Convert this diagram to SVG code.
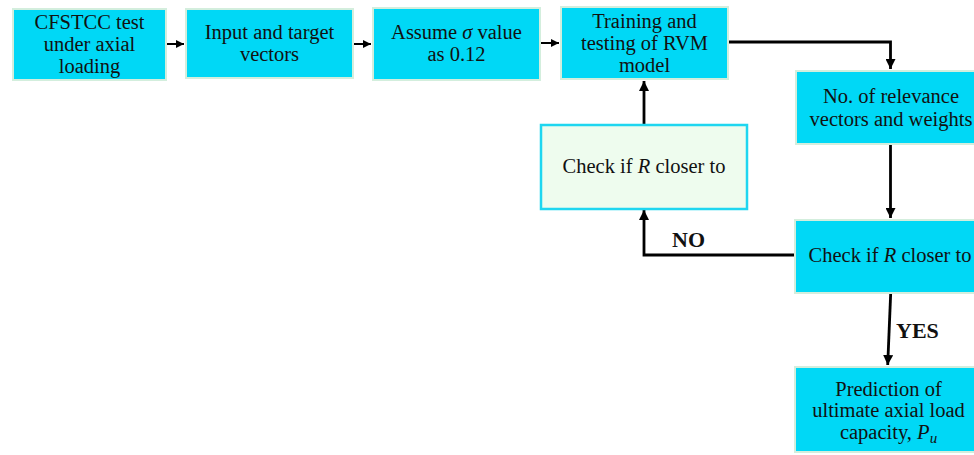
<svg xmlns="http://www.w3.org/2000/svg" width="974" height="455" viewBox="0 0 974 455">
<style>
.box{fill:#00d8f6;stroke:#d3eedd;stroke-width:2}
.chk{fill:#eefcee;stroke:#1ed6f0;stroke-width:2.5}
text{font-family:"Liberation Serif","Times New Roman",serif;font-size:20.5px;fill:#111;text-anchor:middle}
.lbl{font-weight:bold;font-size:22px;text-anchor:start}
.c{fill:none;stroke:#000;stroke-width:2.8}
.s{fill:none;stroke:#000;stroke-width:2}
</style>
<defs>
<marker id="ah" viewBox="0 0 10 10" refX="10" refY="5" markerWidth="8" markerHeight="8" markerUnits="userSpaceOnUse" orient="auto">
<path d="M0,0 L10,5 L0,10 Z" fill="#000"/>
</marker>
<marker id="ahb" viewBox="0 0 10 10" refX="10" refY="5" markerWidth="10" markerHeight="10" markerUnits="userSpaceOnUse" orient="auto">
<path d="M0,0 L10,5 L0,10 Z" fill="#000"/>
</marker>
</defs>
<rect width="974" height="455" fill="#fff"/>
<g id="connectors">
<line class="s" x1="167" y1="44" x2="184" y2="44" marker-end="url(#ah)"/>
<line class="s" x1="354" y1="44" x2="371" y2="44" marker-end="url(#ah)"/>
<line class="s" x1="541" y1="43" x2="559" y2="43" marker-end="url(#ah)"/>
<path class="c" d="M728,42 H890.5 V69" marker-end="url(#ahb)"/>
<path class="c" d="M890.5,145 V218" marker-end="url(#ahb)"/>
<path class="c" d="M795,255 H644 V210" marker-end="url(#ahb)"/>
<path class="c" d="M644,125 V81" marker-end="url(#ahb)"/>
<path class="c" d="M890.7,293 L887.7,365" marker-end="url(#ahb)"/>
<text class="lbl" x="672" y="247">NO</text>
<text class="lbl" x="896" y="338">YES</text>
</g>
<g id="n1"><rect class="box" x="13" y="9" width="153" height="71"/>
<text x="89.5" y="29">CFSTCC test</text><text x="89.5" y="51">under axial</text><text x="89.5" y="73">loading</text></g>
<g id="n2"><rect class="box" x="186" y="9" width="167" height="69"/>
<text x="269.5" y="39">Input and target</text><text x="269.5" y="61">vectors</text></g>
<g id="n3"><rect class="box" x="373" y="8" width="167" height="72"/>
<text x="456.5" y="39">Assume <tspan font-style="italic">σ</tspan> value</text><text x="456.5" y="61">as 0.12</text></g>
<g id="n4"><rect class="box" x="561" y="7" width="167" height="72"/>
<text x="644.5" y="28">Training and</text><text x="644.5" y="50">testing of RVM</text><text x="644.5" y="72">model</text></g>
<g id="n5"><rect class="box" x="796" y="71" width="190" height="73"/>
<text x="891" y="103">No. of relevance</text><text x="891" y="126">vectors and weights</text></g>
<g id="n6"><rect class="chk" x="541" y="125" width="206" height="84"/>
<text x="644" y="173">Check if <tspan font-style="italic">R</tspan> closer to</text></g>
<g id="n7"><rect class="box" x="795" y="220" width="190" height="73"/>
<text x="890" y="262">Check if <tspan font-style="italic">R</tspan> closer to</text></g>
<g id="n8"><rect class="box" x="795" y="367" width="187" height="85"/>
<text x="888.5" y="396">Prediction of</text><text x="888.5" y="417">ultimate axial load</text><text x="888.5" y="439">capacity, <tspan font-style="italic">P</tspan><tspan font-style="italic" font-size="15px" dy="4">u</tspan></text></g>
</svg>
